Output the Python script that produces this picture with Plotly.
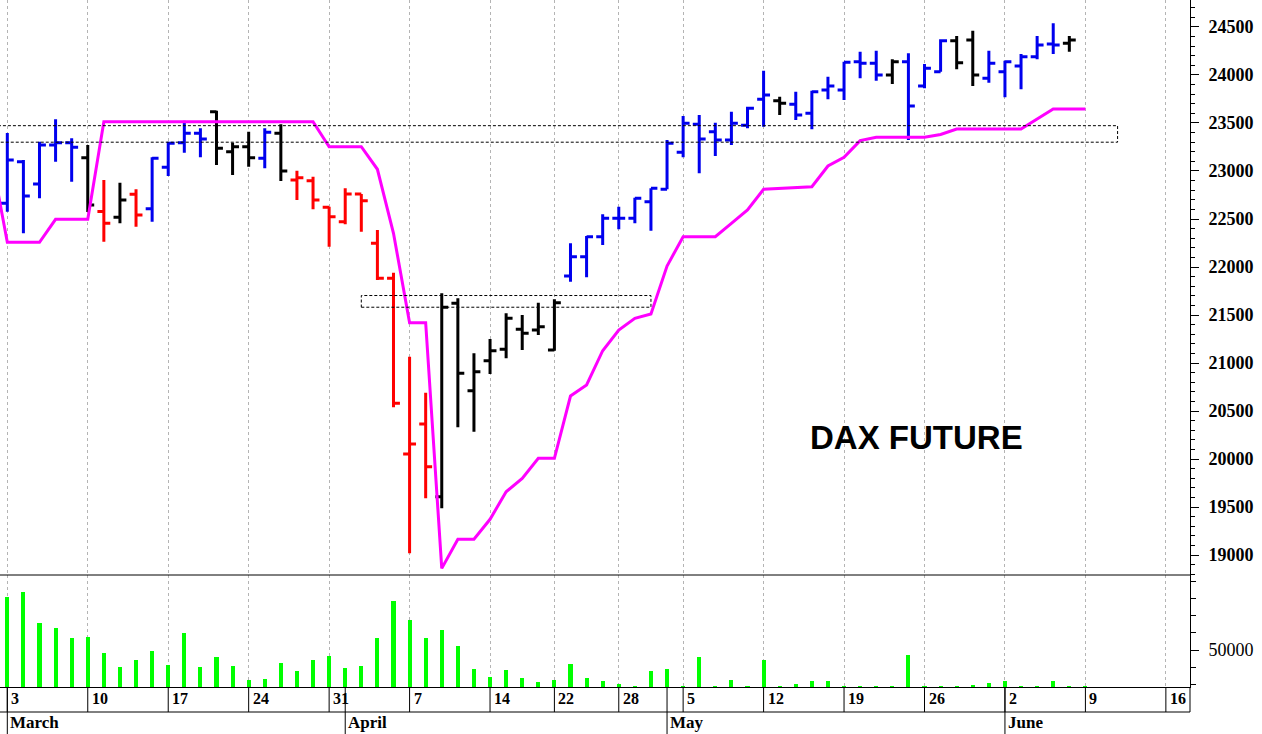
import pandas as pd
import plotly.graph_objects as go

# ---------------- data ----------------
holidays = ["2025-04-18", "2025-04-21", "2025-05-01"]
calendar = [d for d in pd.bdate_range("2025-03-03", "2025-06-16")
            if d.strftime("%Y-%m-%d") not in holidays]
pos = {d.strftime("%Y-%m-%d"): i for i, d in enumerate(calendar)}

n_bars = 68  # 2025-03-03 .. 2025-06-09
bar_dates = [d.strftime("%Y-%m-%d") for d in calendar[:n_bars]]

bar_open = [22665, 23097, 22865, 23271, 23295, 23139, 22578, 22518, 22757, 22607,
            23039, 23295, 23393, 23618, 23201, 23253, 23132, 23393, 22906, 22899,
            22622, 22472, 22760, 22247, 21882, 20052, 20365, 19607, 21622, 20711,
            21024, 21143, 21351, 21344, 21135, 21906, 22107, 22316, 22507, 22507,
            22680, 22809, 23195, 23486, 23409, 23323, 23476, 23747, 23732, 23695,
            23601, 23844, 23844, 24139, 24122, 24000, 24139, 23885, 24034, 24357,
            24365, 23966, 24034, 24094, 24191, 24323, 24330, 24357]
bar_high = [23395, 23115, 23305, 23539, 23341, 23271, 22906, 22878, 22809, 23143,
            23305, 23524, 23445, 23628, 23295, 23409, 23445, 23486, 23003, 22941,
            22628, 22820, 22760, 22385, 21941, 21066, 20691, 21726, 21674, 21101,
            21250, 21518, 21500, 21628, 21664, 22247, 22323, 22549, 22628, 22722,
            22820, 23323, 23573, 23583, 23503, 23618, 23670, 24045, 23774, 23826,
            23836, 23982, 24139, 24243, 24253, 24164, 24226, 24115, 24372, 24406,
            24461, 24253, 24149, 24219, 24406, 24539, 24406, 24372]
bar_low = [22575, 22351, 22716, 23097, 22889, 22573, 22264, 22455, 22420, 22472,
           22948, 23191, 23143, 23062, 22958, 23045, 23028, 22896, 22698, 22601,
           22211, 22445, 22368, 21865, 20539, 19018, 19591, 19486, 20330, 20285,
           20885, 21049, 21135, 21292, 21128, 21847, 21893, 22229, 22393, 22455,
           22378, 22809, 23143, 22976, 23156, 23271, 23445, 23461, 23583, 23531,
           23434, 23747, 23740, 23966, 23941, 23906, 23323, 23861, 24034, 24059,
           23885, 23920, 23768, 23851, 24164, 24219, 24243, 24128]
bar_close = [23115, 22740, 23271, 23295, 23247, 22646, 22455, 22698, 22542, 23132,
             23289, 23393, 23333, 23236, 23253, 23139, 23403, 23000, 22930, 22698,
             22524, 22760, 22691, 21882, 20580, 20156, 19920, 21580, 20893, 20909,
             21128, 21466, 21309, 21378, 21628, 22107, 22316, 22507, 22507, 22716,
             22820, 23289, 23497, 23333, 23323, 23497, 23653, 23792, 23705, 23583,
             23826, 23885, 24132, 24122, 24000, 24139, 23677, 24070, 24357, 24128,
             24000, 24122, 24139, 24191, 24312, 24312, 24365, 24180]
# B = blue, R = red, K = black
bar_colour = list("BBBBBKRKRBBBBKKKBKRRRRRRRRRKKKKKKKKBBBBBBBBBBBBBKBBBBBBKBBBKKBBBBBK")

volume = [80640, 83900, 65870, 62620, 56800, 57380, 48430, 39940, 44190, 49420,
          41100, 60060, 39940, 45760, 40870, 32560, 32970, 42620, 37790, 44190,
          46690, 39360, 40870, 56800, 78490, 67440, 56800, 61630, 52500, 39130,
          34300, 38550, 33550, 31570, 32560, 41690, 33550, 31980, 30230, 29240,
          37790, 39130, 29100, 45760, 29100, 32560, 29240, 44190, 29240, 30060,
          31980, 31980, 29240, 29240, 29240, 29240, 46920, 29100, 29240, 29240,
          29650, 30990, 31980, 29240, 29240, 31980, 29240, 29240]

# trailing line: first value belongs to the previous session (2025-02-28)
trail_line = [23156,
              22257, 22257, 22257, 22497, 22497, 22497, 23514, 23514, 23514, 23514,
              23514, 23514, 23514, 23514, 23514, 23514, 23514, 23514, 23514, 23514,
              23253, 23253, 23253, 23018, 22351, 21420, 21420, 18861, 19164, 19164,
              19372, 19659, 19799, 20007, 20007, 20656, 20771, 21128, 21344, 21466,
              21510, 22010, 22316, 22316, 22316, 22455, 22594, 22809, 22820, 22830,
              22836, 23052, 23143, 23316, 23351, 23351, 23351, 23351, 23380, 23437,
              23437, 23437, 23437, 23437, 23542, 23646, 23646, 23646]

zone_from = ["2025-02-20", "2025-04-02"]
zone_to = ["2025-06-11", "2025-04-30"]
zone_low = [23300, 21581]
zone_high = [23472, 21703]

month_names = {3: "March", 4: "April", 5: "May", 6: "June"}
chart_title = "DAX FUTURE"

# ---------------- derived positions ----------------
x_bar = [pos[d] for d in bar_dates]
x_trail = [x_bar[0] - 1] + x_bar

week_idx, week_lab, month_idx, month_lab = [], [], [], []
prev = None
for i, d in enumerate(calendar):
    wk = d.isocalendar()[1]
    if prev is None or wk != prev[0]:
        week_idx.append(i)
        week_lab.append(str(d.day))
    if prev is None or d.month != prev[1]:
        month_idx.append(i)
        month_lab.append(month_names[d.month])
    prev = (wk, d.month)

def zone_x(d):
    return pos[d] if d in pos else -6

# ---------------- figure ----------------
W, H = 1262, 734
ML, MR, MT, MB = 0, 72, 0, 47
plot_h = H - MT - MB
vol_frac = 112 / plot_h

fig = go.Figure()

colours = {"B": "#0000ee", "R": "#ff0000", "K": "#000000"}
for code, col in colours.items():
    idx = [i for i, c in enumerate(bar_colour) if c == code]
    fig.add_trace(go.Ohlc(
        x=[x_bar[i] for i in idx],
        open=[bar_open[i] for i in idx],
        high=[bar_high[i] for i in idx],
        low=[bar_low[i] for i in idx],
        close=[bar_close[i] for i in idx],
        increasing=dict(line=dict(color=col, width=3)),
        decreasing=dict(line=dict(color=col, width=3)),
        tickwidth=0.4,
        xaxis="x", yaxis="y",
        hoverinfo="skip",
    ))

fig.add_trace(go.Scatter(
    x=x_trail, y=trail_line, mode="lines",
    line=dict(color="#ff00ff", width=3),
    xaxis="x", yaxis="y", hoverinfo="skip",
))

fig.add_trace(go.Bar(
    x=x_bar, y=volume, width=0.25,
    marker=dict(color="#00ff00", line=dict(width=0)),
    xaxis="x", yaxis="y2", hoverinfo="skip",
))

shapes = []
for x0, x1, lo, hi in zip(zone_from, zone_to, zone_low, zone_high):
    shapes.append(dict(type="rect", xref="x", yref="y",
                       x0=zone_x(x0), x1=zone_x(x1), y0=lo, y1=hi,
                       line=dict(color="black", width=1, dash="3px,2px"),
                       fillcolor="rgba(0,0,0,0)"))

row1 = -25 / plot_h
row2 = -47 / plot_h
# panel divider
shapes.append(dict(type="line", xref="paper", yref="paper", x0=0, x1=1,
                   y0=vol_frac, y1=vol_frac, line=dict(color="black", width=1)))
# date-row bottom line
shapes.append(dict(type="line", xref="paper", yref="paper", x0=0, x1=1,
                   y0=row1, y1=row1, line=dict(color="black", width=1)))
# right axis extension into date row
shapes.append(dict(type="line", xref="paper", yref="paper", x0=1, x1=1,
                   y0=0, y1=row1, line=dict(color="black", width=1)))
for i in week_idx:
    shapes.append(dict(type="line", xref="x", yref="paper", x0=i, x1=i,
                       y0=0, y1=row1, line=dict(color="black", width=1)))
for i in month_idx:
    shapes.append(dict(type="line", xref="x", yref="paper", x0=i, x1=i,
                       y0=0, y1=row2, line=dict(color="black", width=1)))

annotations = []
for i, lab in zip(week_idx, week_lab):
    annotations.append(dict(x=i, xref="x", y=-11.5 / plot_h, yref="paper",
                            text=lab, showarrow=False, xanchor="left", yanchor="middle",
                            xshift=2,
                            font=dict(family="Liberation Serif", size=16, color="black",
                                      weight="bold")))
for i, lab in zip(month_idx, month_lab):
    annotations.append(dict(x=i, xref="x", y=-35.5 / plot_h, yref="paper",
                            text=lab, showarrow=False, xanchor="left", yanchor="middle",
                            xshift=1,
                            font=dict(family="Liberation Serif", size=17, color="black",
                                      weight="bold")))
annotations.append(dict(x=916 / (W - ML - MR), xref="paper", y=(plot_h - 438) / plot_h,
                        yref="paper", text=chart_title, showarrow=False,
                        xanchor="center", yanchor="middle",
                        font=dict(family="Liberation Sans", size=33, color="black",
                                  weight="bold")))

fig.update_layout(
    width=W, height=H,
    margin=dict(l=ML, r=MR, t=MT, b=MB),
    paper_bgcolor="white", plot_bgcolor="white",
    showlegend=False,
    shapes=shapes, annotations=annotations,
    xaxis=dict(range=[-0.454, 73.5], tickmode="array", tickvals=week_idx,
               showticklabels=False, ticks="", showgrid=True, gridcolor="#b4b4b4",
               griddash="3px,3px", gridwidth=1, showline=True, linecolor="black",
               linewidth=1, zeroline=False, anchor="y2",
               rangeslider=dict(visible=False), fixedrange=True),
    yaxis=dict(domain=[vol_frac, 1], range=[18792, 24781], side="right", anchor="x",
               tickmode="linear", tick0=0, dtick=500, tickformat="d",
               ticks="outside", ticklen=8,
               tickcolor="black", showline=True, linecolor="black", linewidth=1,
               showgrid=False, zeroline=False, ticklabelstandoff=6,
               tickfont=dict(family="Liberation Serif", size=18, color="black",
                             weight="bold"),
               minor=dict(tickmode="linear", tick0=0, dtick=100, ticks="outside",
                          ticklen=4, tickcolor="black", showgrid=False),
               fixedrange=True),
    yaxis2=dict(domain=[0, vol_frac], range=[28488, 93605], side="right", anchor="x",
                tickmode="array", tickvals=[50000], ticktext=["50000"],
                ticks="outside", ticklen=8, tickcolor="black",
                showline=True, linecolor="black", linewidth=1,
                showgrid=False, zeroline=False, ticklabelstandoff=6,
                tickfont=dict(family="Liberation Serif", size=18, color="black"),
                minor=dict(tickmode="array",
                           tickvals=[30000, 40000, 60000, 70000, 80000, 90000],
                           ticks="outside", ticklen=5, tickcolor="black", showgrid=False),
                fixedrange=True),
    bargap=0,
)

fig.write_html("out.html",
               config={"displayModeBar": False},
               post_script="document.body.style.margin='0px';document.body.style.overflow='hidden';")
